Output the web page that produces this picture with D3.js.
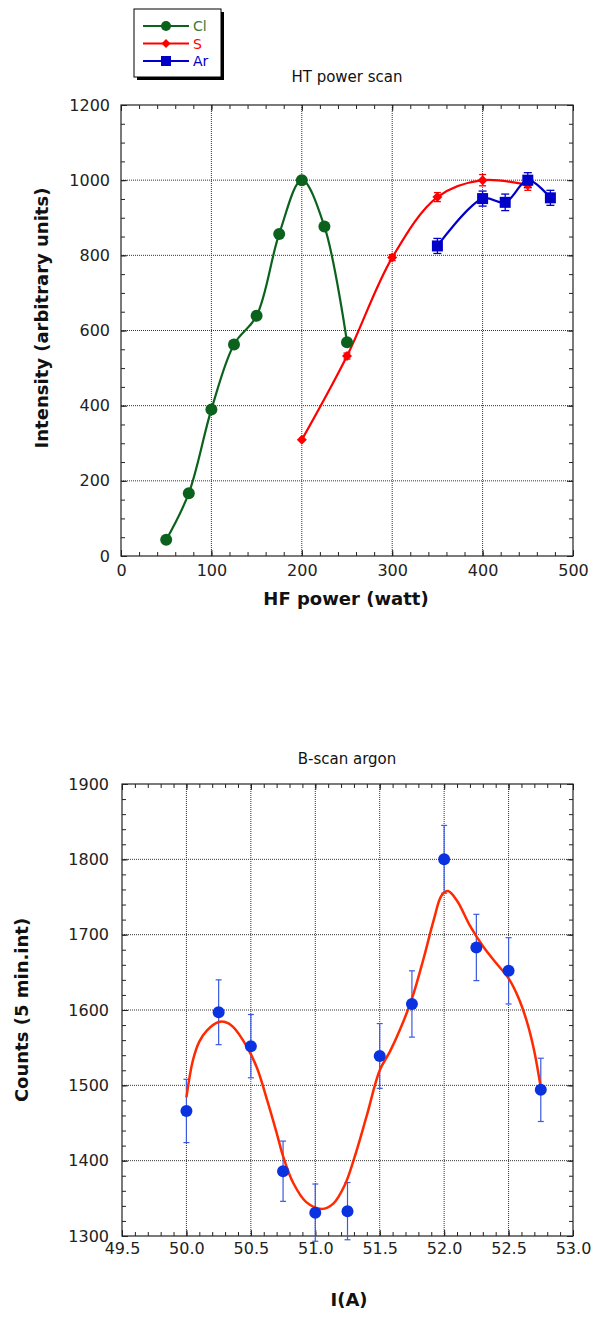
<!DOCTYPE html>
<html><head><meta charset="utf-8">
<script src="https://cdn.jsdelivr.net/npm/d3@7"></script>
<style>
body{margin:0;background:#fff}
svg{display:block}
text{font-family:"DejaVu Sans",sans-serif}
</style>
</head><body>
<script>
// ---------- Data: HT power scan ----------
const clPower = [50, 75, 100, 125, 150, 175, 200, 225, 250];
const clIntensity = [43, 167, 390, 563, 639, 857, 1000, 877, 569];
const sPower = [200, 250, 300, 350, 400, 450];
const sIntensity = [309, 532, 794, 955, 1000, 987];
const sError = [0, 8, 8, 12, 15, 14];
const arPower = [350, 400, 425, 450, 475];
const arIntensity = [825, 951, 941, 1000, 953];
const arError = [20, 20, 22, 20, 20];
const topXTicks = [0, 100, 200, 300, 400, 500];
const topYTicks = [0, 200, 400, 600, 800, 1000, 1200];
const seriesNames = ["Cl", "S", "Ar"];

// ---------- Data: B-scan argon ----------
const bCurrent = [50.0, 50.25, 50.5, 50.75, 51.0, 51.25, 51.5, 51.75, 52.0, 52.25, 52.5, 52.75];
const bCounts = [1466, 1597, 1552, 1386, 1331, 1333, 1539, 1608, 1800, 1683, 1652, 1494];
const bError = [42, 43, 42, 40, 38, 38, 43, 44, 45, 44, 44, 42];
const fitCurrent = [50.0, 50.05, 50.1, 50.16, 50.25, 50.3, 50.36, 50.47, 50.55, 50.62, 50.7, 50.75, 50.83, 50.93, 51.05, 51.14, 51.23, 51.3, 51.4, 51.5, 51.58, 51.66, 51.75, 51.84, 51.92, 51.98, 52.03, 52.1, 52.2, 52.3, 52.4, 52.5, 52.58, 52.65, 52.7, 52.75];
const fitCounts = [1484, 1533, 1558, 1573, 1584, 1584, 1578, 1551, 1522, 1484, 1437, 1406, 1370, 1345, 1336, 1343, 1368, 1402, 1460, 1520, 1545, 1575, 1615, 1668, 1720, 1752, 1758, 1745, 1712, 1685, 1663, 1642, 1615, 1580, 1545, 1497];
const botXTicks = [49.5, 50.0, 50.5, 51.0, 51.5, 52.0, 52.5, 53.0];
const botYTicks = [1300, 1400, 1500, 1600, 1700, 1800, 1900];

const W = 596, H = 1318;
const svg = d3.select("body").append("svg").attr("width", W).attr("height", H);

function frame(g, x, y, xMajor, xMinor, yMajor, yMinor, xFmt, yFmt, xPad, yPad) {
  const [x0, x1] = x.range(), [y0, y1] = y.range();
  g.append("g").selectAll("line").data(xMajor.filter(v => v !== x.domain()[0] && v !== x.domain()[1]))
    .join("line").attr("x1", d => x(d)).attr("x2", d => x(d)).attr("y1", y0).attr("y2", y1)
    .attr("stroke", "#333").attr("stroke-width", 1).attr("stroke-dasharray", "1,1");
  g.append("g").selectAll("line").data(yMajor.filter(v => v !== y.domain()[0] && v !== y.domain()[1]))
    .join("line").attr("y1", d => y(d)).attr("y2", d => y(d)).attr("x1", x0).attr("x2", x1)
    .attr("stroke", "#333").attr("stroke-width", 1).attr("stroke-dasharray", "1,1");
  const style = s => {
    s.select(".domain").remove();
    s.selectAll("line").attr("stroke", "#222");
    s.selectAll("text").attr("font-family", "DejaVu Sans, sans-serif").attr("font-size", 16).attr("fill", "#222");
  };
  g.append("g").attr("transform", `translate(0,${y0})`).call(d3.axisBottom(x).tickValues(xMinor).tickSize(-4).tickFormat("")).call(style);
  g.append("g").attr("transform", `translate(0,${y1})`).call(d3.axisTop(x).tickValues(xMinor).tickSize(-4).tickFormat("")).call(style);
  g.append("g").attr("transform", `translate(${x0},0)`).call(d3.axisLeft(y).tickValues(yMinor).tickSize(-4).tickFormat("")).call(style);
  g.append("g").attr("transform", `translate(${x1},0)`).call(d3.axisRight(y).tickValues(yMinor).tickSize(-4).tickFormat("")).call(style);
  g.append("g").attr("transform", `translate(0,${y0})`).call(d3.axisBottom(x).tickValues(xMajor).tickSizeInner(-6).tickSizeOuter(0).tickPadding(xPad).tickFormat(xFmt)).call(style);
  g.append("g").attr("transform", `translate(0,${y1})`).call(d3.axisTop(x).tickValues(xMajor).tickSizeInner(-6).tickSizeOuter(0).tickFormat("")).call(style);
  g.append("g").attr("transform", `translate(${x0},0)`).call(d3.axisLeft(y).tickValues(yMajor).tickSizeInner(-6).tickSizeOuter(0).tickPadding(yPad).tickFormat(yFmt)).call(style);
  g.append("g").attr("transform", `translate(${x1},0)`).call(d3.axisRight(y).tickValues(yMajor).tickSizeInner(-6).tickSizeOuter(0).tickFormat("")).call(style);
  g.append("rect").attr("x", x0).attr("y", y1).attr("width", x1 - x0).attr("height", y0 - y1)
    .attr("fill", "none").attr("stroke", "#222").attr("stroke-width", 1.2);
}

function range(a, b, step) { const r = []; for (let v = a; v <= b + 1e-9; v += step) r.push(+v.toFixed(4)); return r; }

// ================= TOP CHART =================
const xT = d3.scaleLinear().domain([0, 500]).range([121, 573]);
const yT = d3.scaleLinear().domain([0, 1200]).range([556, 105]);
const gT = svg.append("g");
frame(gT, xT, yT, topXTicks, range(0, 500, 20), topYTicks, range(0, 1200, 50), d3.format("d"), d3.format("d"), 9, 11);

const colors = { Cl: "#0b621c", S: "#ff0000", Ar: "#0000c8" };
const lineT = d3.line().x(d => xT(d[0])).y(d => yT(d[1])).curve(d3.curveCatmullRom.alpha(0.5));

const clData = clPower.map((p, i) => [p, clIntensity[i]]);
const sData = sPower.map((p, i) => [p, sIntensity[i], sError[i]]);
const arData = arPower.map((p, i) => [p, arIntensity[i], arError[i]]);

gT.append("path").attr("d", lineT(clData)).attr("fill", "none").attr("stroke", colors.Cl).attr("stroke-width", 2.2);
gT.append("path").attr("d", lineT(sData)).attr("fill", "none").attr("stroke", colors.S).attr("stroke-width", 2.2);
gT.append("path").attr("d", lineT(arData)).attr("fill", "none").attr("stroke", colors.Ar).attr("stroke-width", 2.2);

function errBars(g, data, x, y, color, cap, sw) {
  const e = g.append("g").attr("stroke", color).attr("stroke-width", sw).attr("fill", "none");
  data.filter(d => d[2] > 0).forEach(d => {
    const cx = x(d[0]), yt = y(d[1] + d[2]), yb = y(d[1] - d[2]);
    e.append("line").attr("x1", cx).attr("x2", cx).attr("y1", yt).attr("y2", yb);
    e.append("line").attr("x1", cx - cap).attr("x2", cx + cap).attr("y1", yt).attr("y2", yt);
    e.append("line").attr("x1", cx - cap).attr("x2", cx + cap).attr("y1", yb).attr("y2", yb);
  });
}
errBars(gT, sData, xT, yT, colors.S, 3.5, 1.3);
errBars(gT, arData, xT, yT, colors.Ar, 4, 1.3);

gT.append("g").selectAll("circle").data(clData).join("circle")
  .attr("cx", d => xT(d[0])).attr("cy", d => yT(d[1])).attr("r", 6).attr("fill", colors.Cl);
gT.append("g").selectAll("path").data(sData).join("path")
  .attr("transform", d => `translate(${xT(d[0])},${yT(d[1])})`)
  .attr("d", "M0,-5L5,0L0,5L-5,0Z").attr("fill", colors.S);
gT.append("g").selectAll("rect").data(arData).join("rect")
  .attr("x", d => xT(d[0]) - 5.5).attr("y", d => yT(d[1]) - 5.5).attr("width", 11).attr("height", 11).attr("fill", colors.Ar);

svg.append("text").attr("x", 347).attr("y", 82).attr("text-anchor", "middle").attr("font-size", 15).attr("fill", "#111").text("HT power scan");
svg.append("text").attr("x", 346).attr("y", 605).attr("text-anchor", "middle").attr("font-size", 18).attr("font-weight", "bold").attr("fill", "#111").text("HF power (watt)");
svg.append("text").attr("transform", "translate(48,318) rotate(-90)").attr("text-anchor", "middle").attr("font-size", 18).attr("font-weight", "bold").attr("fill", "#111").text("Intensity (arbitrary units)");

// legend
const lg = svg.append("g");
lg.append("rect").attr("x", 137).attr("y", 12).attr("width", 87).attr("height", 68).attr("fill", "#000");
lg.append("rect").attr("x", 134).attr("y", 9).attr("width", 87).attr("height", 68).attr("fill", "#fff").attr("stroke", "#000").attr("stroke-width", 1);
const legY = d3.scalePoint().domain(seriesNames).range([26, 61]);
seriesNames.forEach(n => {
  const yy = legY(n), c = colors[n];
  lg.append("line").attr("x1", 143).attr("x2", 189).attr("y1", yy).attr("y2", yy).attr("stroke", c).attr("stroke-width", 2);
  if (n === "Cl") lg.append("circle").attr("cx", 166).attr("cy", yy).attr("r", 5).attr("fill", c);
  if (n === "S") lg.append("path").attr("transform", `translate(166,${yy})`).attr("d", "M0,-4.5L4.5,0L0,4.5L-4.5,0Z").attr("fill", c);
  if (n === "Ar") lg.append("rect").attr("x", 161).attr("y", yy - 5).attr("width", 10).attr("height", 10).attr("fill", c);
  lg.append("text").attr("x", 193).attr("y", yy + 5).attr("font-size", 14).attr("fill", n === "Cl" ? "#3a7a3a" : c).text(n);
});

// ================= BOTTOM CHART =================
const xB = d3.scaleLinear().domain([49.5, 53.0]).range([122, 573]);
const yB = d3.scaleLinear().domain([1300, 1900]).range([1236, 784]);
const gB = svg.append("g");
frame(gB, xB, yB, botXTicks, range(49.5, 53.0, 0.1), botYTicks, range(1300, 1900, 20), d3.format(".1f"), d3.format("d"), 7, 13);

const fitData = fitCurrent.map((c, i) => [c, fitCounts[i]]);
const lineB = d3.line().x(d => xB(d[0])).y(d => yB(d[1])).curve(d3.curveCatmullRom.alpha(0.5));
const bData = bCurrent.map((c, i) => [c, bCounts[i], bError[i]]);
errBars(gB, bData, xB, yB, "#3a5ae0", 3, 1.2);
gB.append("path").attr("d", lineB(fitData)).attr("fill", "none").attr("stroke", "#ff2a00").attr("stroke-width", 2.5);
gB.append("g").selectAll("circle").data(bData).join("circle")
  .attr("cx", d => xB(d[0])).attr("cy", d => yB(d[1])).attr("r", 6).attr("fill", "#0a32e0");

svg.append("text").attr("x", 347).attr("y", 764).attr("text-anchor", "middle").attr("font-size", 15).attr("fill", "#111").text("B-scan argon");
svg.append("text").attr("x", 349).attr("y", 1306).attr("text-anchor", "middle").attr("font-size", 18).attr("font-weight", "bold").attr("fill", "#111").text("I(A)");
svg.append("text").attr("transform", "translate(28,1010) rotate(-90)").attr("text-anchor", "middle").attr("font-size", 18).attr("font-weight", "bold").attr("fill", "#111").text("Counts (5 min.int)");
</script>
</body></html>
